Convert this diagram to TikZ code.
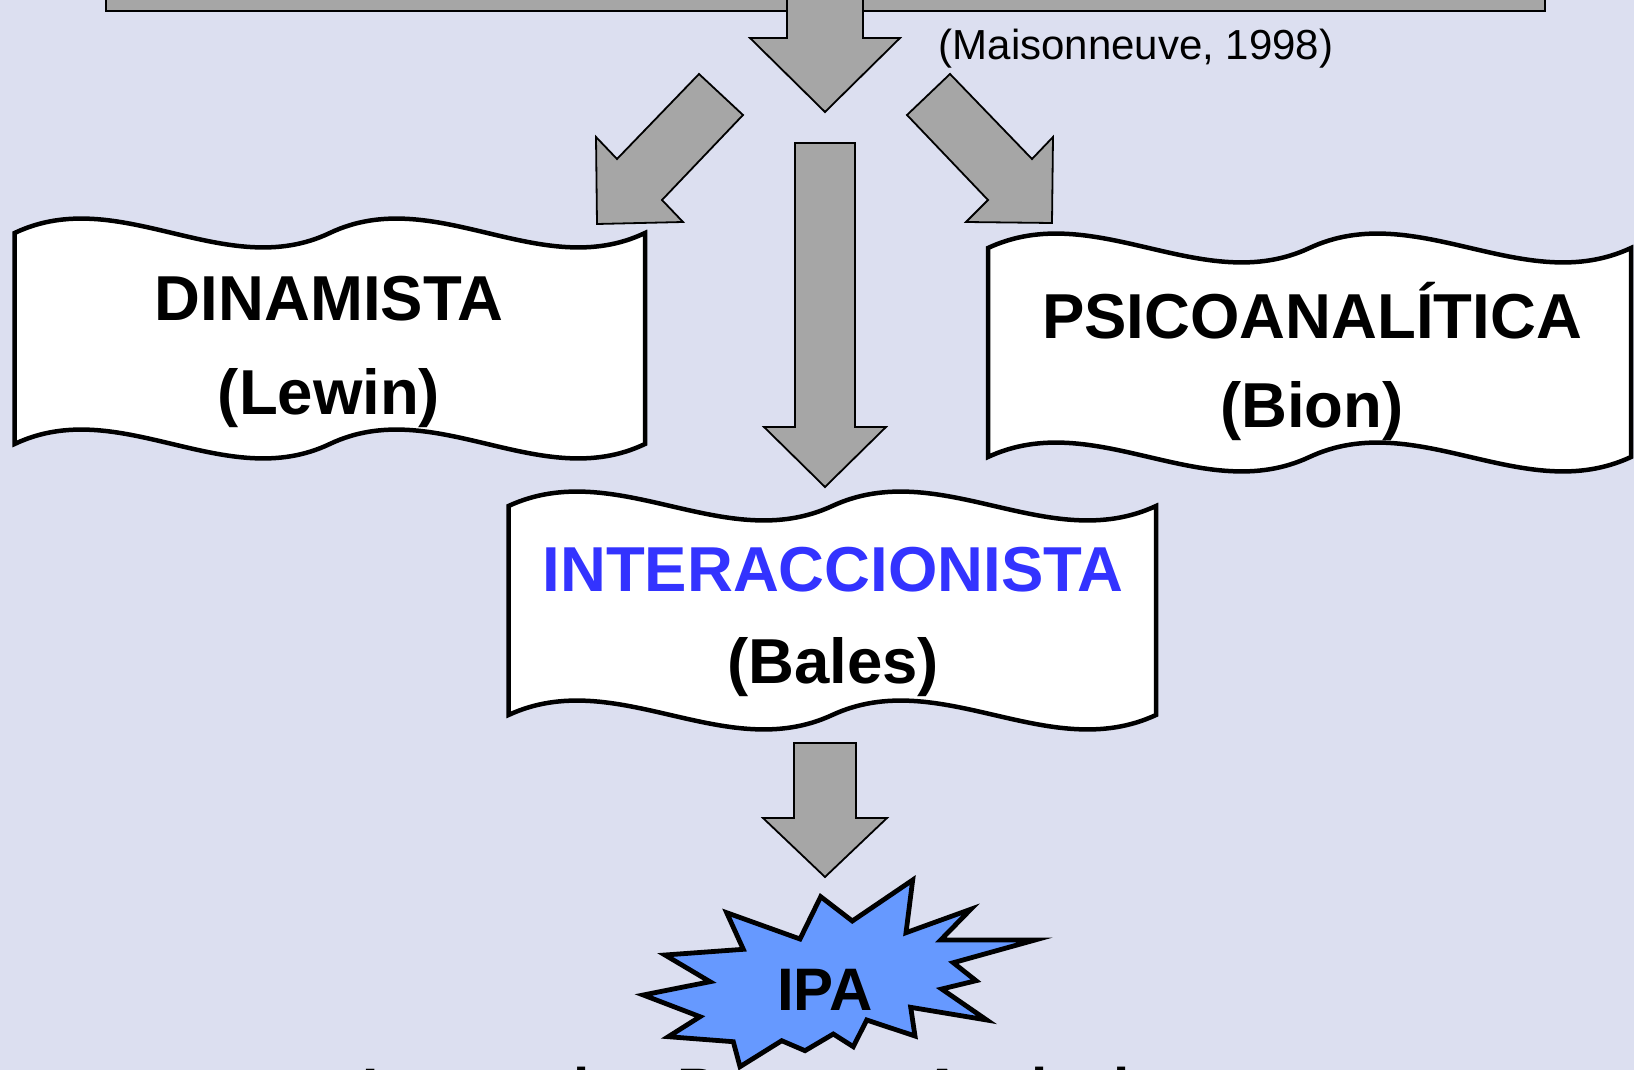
\documentclass[tikz,border=0pt]{standalone}
\usepackage{fontspec}
\setmainfont{Liberation Sans}
\usetikzlibrary{calc}
\definecolor{bgpaper}{HTML}{DCDFF0}
\definecolor{arrowgray}{HTML}{A6A6A6}
\definecolor{titleblue}{HTML}{3333FF}
\definecolor{burstblue}{HTML}{6699FF}

% Double-wave banner: #1 left, #2 right, #3 top corners, #4 bottom corners, #5 control offset
\newcommand\wavebanner[5]{%
  \pgfmathsetmacro\wL{#1}\pgfmathsetmacro\wR{#2}%
  \pgfmathsetmacro\wA{\wL+(\wR-\wL)/6}\pgfmathsetmacro\wB{\wL+(\wR-\wL)/3}%
  \pgfmathsetmacro\wM{\wL+(\wR-\wL)/2}%
  \pgfmathsetmacro\wC{\wL+2*(\wR-\wL)/3}\pgfmathsetmacro\wD{\wL+5*(\wR-\wL)/6}%
  \draw[banner] (\wL,#3) .. controls (\wA,#3-#5) and (\wB,#3+#5) .. (\wM,#3)
    .. controls (\wC,#3-#5) and (\wD,#3+#5) .. (\wR,#3) -- (\wR,#4)
    .. controls (\wD,#4+#5) and (\wC,#4-#5) .. (\wM,#4)
    .. controls (\wB,#4+#5) and (\wA,#4-#5) .. (\wL,#4) -- cycle;}

\begin{document}
\begin{tikzpicture}[x=1pt,y=-1pt,
  blockarrow/.style={fill=arrowgray,draw=black,line width=1.8pt,line join=miter},
  banner/.style={fill=white,draw=black,line width=4.5pt,line join=miter},
  bigtext/.style={font=\fontsize{63.5}{70}\selectfont\bfseries,inner sep=0pt,anchor=base},
  burst/.style={fill=burstblue,draw=black,line width=4.8pt,line join=miter}]

\useasboundingbox (0,0) rectangle (1634,1070);
\clip (0,0) rectangle (1634,1070);
\fill[bgpaper] (0,0) rectangle (1634,1070);

% header box
\draw[fill=arrowgray,draw=black,line width=2pt] (106,-30) rectangle (1545,11);

% arrow out of the header
\draw[blockarrow] (787,-20) -- (787,38) -- (750,38) -- (825,112) -- (900,38)
  -- (863,38) -- (863,-20) -- cycle;

% diagonal arrows
\draw[blockarrow] (699,74) -- (743,115) -- (662,200) -- (683,222) -- (597,224)
  -- (596,137) -- (617,159) -- cycle;
\draw[blockarrow] (950,74) -- (907,115) -- (988,200) -- (966,222) -- (1052,223)
  -- (1053,137) -- (1032,159) -- cycle;

% central long arrow
\draw[blockarrow] (795,143) -- (855,143) -- (855,427) -- (886,427) -- (825,487)
  -- (764,427) -- (795,427) -- cycle;

% banners
\wavebanner{14.6}{645}{233}{444}{50}
\wavebanner{988}{1631}{248}{457}{50}
\wavebanner{508.5}{1156}{506}{715}{50}

% arrow to IPA
\draw[blockarrow] (794,743) -- (856,743) -- (856,818) -- (887,818) -- (825,877)
  -- (763,818) -- (794,818) -- cycle;

% IPA burst
\draw[burst] (726.7,912.7) -- (800,939) -- (820.7,896.7) -- (852.3,921)
  -- (912.7,880) -- (906,932.7) -- (970.7,909.3) -- (940.7,940)
  -- (1035,940) -- (953.3,962.7) -- (976,980.7) -- (941.7,989)
  -- (986.7,1020) -- (910.7,1007.3) -- (915,1036) -- (866.7,1020)
  -- (853.3,1046.7) -- (833.3,1034) -- (805,1050.7) -- (781.7,1040.7)
  -- (740,1066.7) -- (733.3,1041.7) -- (668.3,1036.7) -- (700,1016.7)
  -- (643.3,995) -- (710,981.7) -- (665,955) -- (743.3,949.3) -- cycle;

% texts
\node[font=\fontsize{42}{48}\selectfont,inner sep=0pt,anchor=base] (ref) at (1136,60) {(Maisonneuve, 1998)};
\node[bigtext] (dinamista) at (329,320) {DINAMISTA};
\node[bigtext] (lewin) at (329,414) {(Lewin)};
\node[bigtext] (psico) at (1312,338) {PSICOANALÍTICA};
\node[bigtext] (bion) at (1312,427) {(Bion)};
\node[bigtext,text=titleblue] (inter) at (833,591) {INTERACCIONISTA};
\node[bigtext] (bales) at (833,683) {(Bales)};
\node[font=\fontsize{60}{66}\selectfont\bfseries,inner sep=0pt,anchor=base] (ipa) at (825,1010) {IPA};
\node[font=\fontsize{58.5}{64}\selectfont\bfseries,inner sep=0pt,anchor=base west] (ipaname) at (362,1109) {Interaction Process Analysis};
\end{tikzpicture}
\end{document}
